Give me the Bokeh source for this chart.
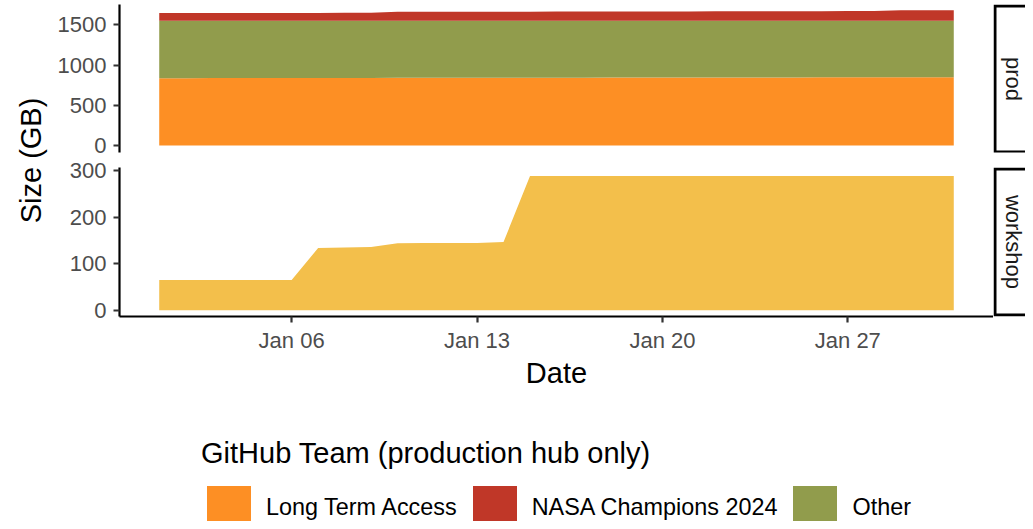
import numpy as np
import pandas as pd
from bokeh.plotting import figure
from bokeh.models import (ColumnDataSource, Range1d, FixedTicker, DatetimeTickFormatter,
                          Legend, LegendItem)
from bokeh.layouts import row, column
from bokeh.core.properties import value
from bokeh.embed import file_html
from bokeh.resources import INLINE

# ---------------- data ----------------
dates = pd.date_range("2025-01-01", "2025-01-31", freq="D")

long_term_access = [838, 838, 839, 839, 839, 840, 840, 841, 841, 842, 842, 842, 843, 843, 844, 844,
                    844, 845, 845, 845, 846, 846, 847, 847, 847, 848, 848, 849, 849, 850, 850]
other = [713, 713, 712, 712, 712, 711, 711, 710, 710, 709, 709, 709, 708, 708, 707, 707,
         707, 706, 706, 706, 705, 705, 704, 704, 704, 703, 703, 702, 702, 701, 701]
nasa_champions_2024 = [96, 96, 97, 97, 97, 98, 98, 99, 100, 112, 112, 113, 113, 114, 114, 115,
                       115, 116, 116, 117, 117, 118, 118, 119, 119, 120, 121, 122, 131, 132, 133]

workshop = [65, 65, 65, 65, 65, 65, 134, 135, 136, 144, 145, 145, 145, 147, 289, 289,
            289, 289, 289, 289, 289, 289, 289, 289, 289, 289, 289, 289, 289, 289, 289]

x_tick_dates = ["2025-01-06", "2025-01-13", "2025-01-20", "2025-01-27"]
prod_ticks = [0, 500, 1000, 1500]
workshop_ticks = [0, 100, 200, 300]

team_labels = ["Long Term Access", "NASA Champions 2024", "Other"]
team_colors = ["#FD8F24", "#C03728", "#919C4C"]
workshop_color = "#F3BF4B"

facet_labels = ["prod", "workshop"]
y_title = "Size (GB)"
x_title = "Date"
legend_title = "GitHub Team (production hub only)"

FONT = "Liberation Sans"
TITLE_SIZE = "29px"

# ---------------- helpers ----------------
def base_fig(**kw):
    p = figure(output_backend="svg", toolbar_location=None, **kw)
    p.outline_line_color = None
    p.background_fill_color = "white"
    p.border_fill_color = "white"
    p.grid.visible = False
    return p


def style_axes(p):
    for ax in p.axis:
        ax.axis_line_width = 2.2
        ax.axis_line_color = "black"
        ax.major_tick_line_color = "#333333"
        ax.major_tick_line_width = 2.2
        ax.major_tick_out = 6
        ax.major_tick_in = 0
        ax.minor_tick_line_color = None
        ax.major_label_text_font = FONT
        ax.major_label_text_font_size = "22px"
        ax.major_label_text_color = "#4D4D4D"
        ax.axis_label_text_font = FONT
        ax.axis_label_text_font_size = TITLE_SIZE
        ax.axis_label_text_font_style = "normal"
        ax.axis_label_text_color = "black"


x_range = Range1d(dates[0] - pd.Timedelta(days=1.5), dates[-1] + pd.Timedelta(days=1.5))

# vertical layout (page pixels)
TOP_H = 158                 # prod row height
BOT_H = 400 - TOP_H         # workshop row height
P_TOP, P_BOT = 4, 152       # prod frame
W_TOP, W_BOT = 167, 316     # workshop frame

# ---------------- prod panel ----------------
prod_src = ColumnDataSource(dict(date=dates, lta=long_term_access, other=other,
                                 nasa=nasa_champions_2024))
pp = base_fig(width=945, height=TOP_H, x_range=x_range, y_range=Range1d(-87, 1754),
              x_axis_type="datetime", min_border_left=71, min_border_right=0,
              min_border_top=P_TOP, min_border_bottom=TOP_H - P_BOT)
pp.varea_stack(["lta", "other", "nasa"], x="date", source=prod_src,
               color=[team_colors[0], team_colors[2], team_colors[1]])
pp.xaxis.visible = False
style_axes(pp)
pp.yaxis.ticker = FixedTicker(ticks=prod_ticks)
pp.yaxis.major_label_standoff = 7

# ---------------- workshop panel ----------------
ws_src = ColumnDataSource(dict(date=dates, ws=workshop))
pw = base_fig(width=945, height=BOT_H, x_range=x_range, y_range=Range1d(-13.6, 307.5),
              x_axis_type="datetime", min_border_left=71, min_border_right=0,
              min_border_top=W_TOP - TOP_H, min_border_bottom=400 - W_BOT)
pw.varea(x="date", y1=0, y2="ws", source=ws_src, fill_color=workshop_color)
style_axes(pw)
pw.yaxis.ticker = FixedTicker(ticks=workshop_ticks)
pw.yaxis.major_label_standoff = 7
tick_ms = [pd.Timestamp(d).value // 10**6 for d in x_tick_dates]
pw.xaxis.ticker = FixedTicker(ticks=tick_ms)
pw.xaxis.formatter = DatetimeTickFormatter(days="%b %d", months="%b %d", years="%b %d")
pw.xaxis.major_label_standoff = 5
pw.xaxis.axis_label = x_title
pw.xaxis.axis_label_standoff = 1

# ---------------- strips (frame aligned with the panel frame; y range in page pixels) ----
def strip_fig(row_top, row_h, f_top, f_bot, box_top, box_bot, label):
    s = base_fig(width=32, height=row_h, x_range=Range1d(0, 32), y_range=Range1d(f_bot, f_top),
                 x_axis_type=None, y_axis_type=None, min_border_left=0, min_border_right=0,
                 min_border_top=f_top - row_top, min_border_bottom=row_top + row_h - f_bot)
    # box: left, top and bottom edges (the right edge lies beyond the page)
    s.multi_line(xs=[[60, 1.5, 1.5, 60]], ys=[[box_top, box_top, box_bot, box_bot]],
                 line_color="black", line_width=3, line_join="miter")
    s.text(x=[20], y=[(box_top + box_bot) / 2], text=[label], angle=-np.pi / 2,
           text_align="center", text_baseline="middle", text_font=value(FONT),
           text_font_size=value("22px"), text_color="#1A1A1A")
    return s

ps = strip_fig(0, TOP_H, P_TOP, P_BOT, 5.5, 151.5, facet_labels[0])
pws = strip_fig(TOP_H, BOT_H, W_TOP, W_BOT, 168.5, 314.5, facet_labels[1])

# ---------------- y title ----------------
pl = base_fig(width=48, height=400, x_range=Range1d(0, 48), y_range=Range1d(400, 0),
              x_axis_type=None, y_axis_type=None, min_border=0)
pl.text(x=[30], y=[160], text=[y_title], angle=np.pi / 2, text_align="center",
        text_baseline="middle", text_font=value(FONT), text_font_size=value(TITLE_SIZE),
        text_color="black")

# ---------------- legend ----------------
plg = base_fig(width=1025, height=121, x_range=Range1d(0, 1), y_range=Range1d(0, 1),
               x_axis_type=None, y_axis_type=None, min_border=0)
rends = [plg.quad(left=[0], right=[0], top=[0], bottom=[0], fill_color=c, line_color=None)
         for c in team_colors]
legend = Legend(items=[LegendItem(label=l, renderers=[r]) for l, r in zip(team_labels, rends)],
                orientation="horizontal", location=(201, -13.5), title=legend_title,
                title_text_font=FONT, title_text_font_size=TITLE_SIZE, title_text_font_style="normal",
                title_text_color="black", title_standoff=10,
                label_text_font=FONT, label_text_font_size="23.4px", label_text_color="black",
                glyph_width=55, glyph_height=55, label_standoff=10, spacing=10,
                padding=0, margin=0, border_line_color=None, background_fill_alpha=0)
plg.add_layout(legend, "center")

layout = column(row(pl, column(row(pp, ps), row(pw, pws))), plg)

open("out.html", "w").write(file_html(layout, INLINE))
